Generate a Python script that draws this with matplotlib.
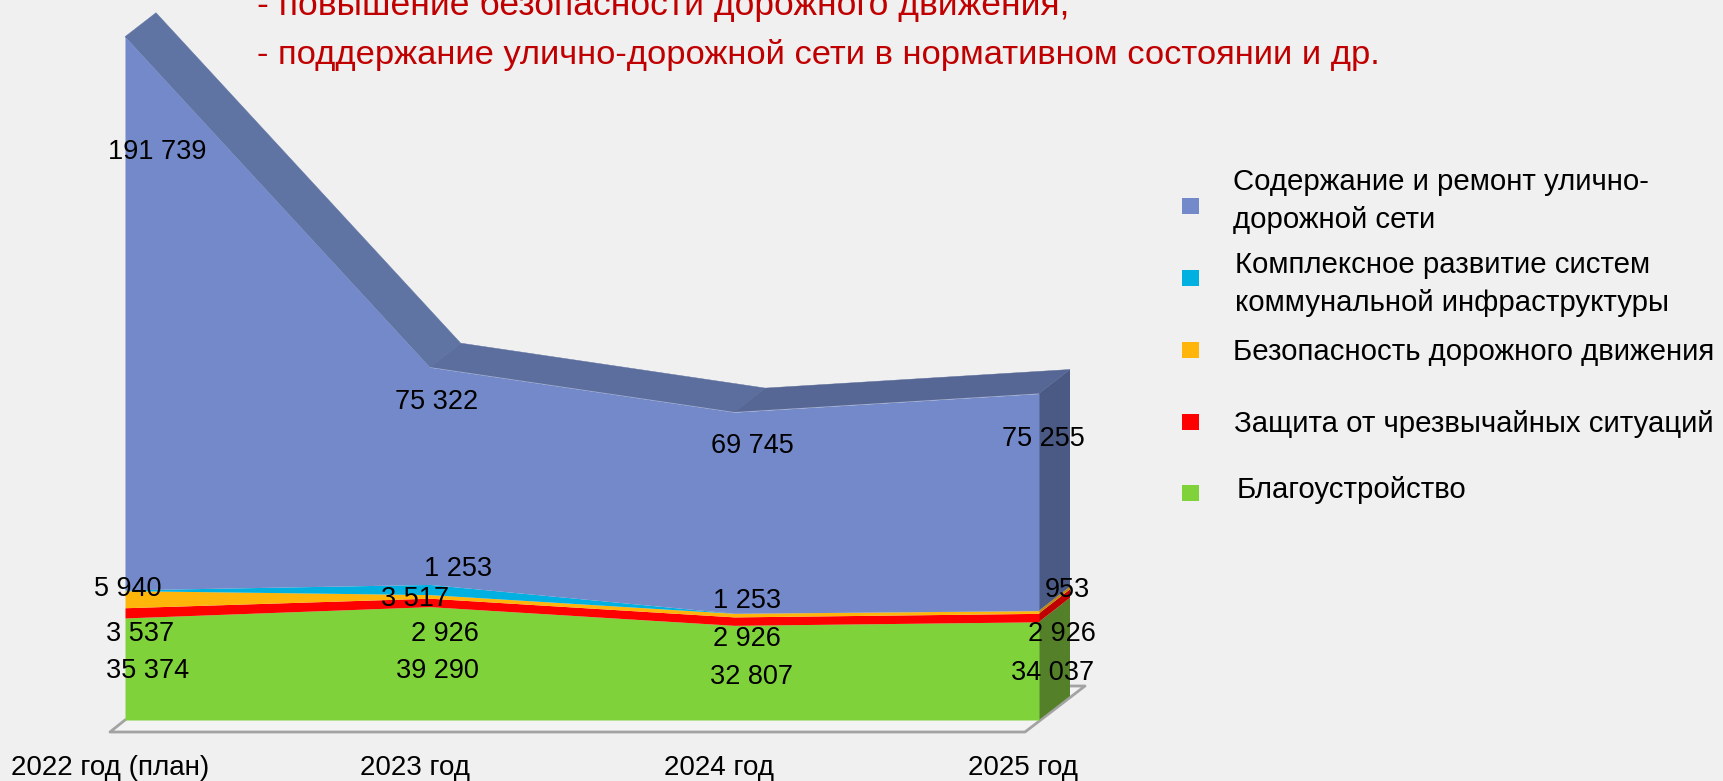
'''
Stacked area chart with a fake 3D depth, budget by direction 2022-2025
'''
import matplotlib
matplotlib.use('Agg')
import matplotlib.pyplot as plt
from matplotlib.patches import Polygon, Rectangle
import numpy as np

plt.rcParams['font.family'] = ['Liberation Sans', 'DejaVu Sans']

W, H = 1723, 781
BG = '#F0F0F0'

YEARS = ['2022 год (план)', '2023 год', '2024 год', '2025 год']

# bottom to top
GREEN = [35374, 39290, 32807, 34037]
RED = [3537, 2926, 2926, 2926]
ORANGE = [5940, 1253, 1253, 953]
CYAN = [250, 3517, 0, 0]
BLUE = [191739, 75322, 69745, 75255]

LAYERS = [GREEN, RED, ORANGE, CYAN, BLUE]
COLORS = ['#80D23A', '#FF0000', '#FFB50A', '#00B0E0', '#7389C9']
SIDE_COLORS = ['#55802A', '#C00000', '#C08A08', '#0080A0', '#4A5A85']
TOP_COLORS = ['#5F74A3', '#5B6E9E', '#566796']

LEGEND = ['Содержание и ремонт улично-\nдорожной сети',
          'Комплексное развитие систем\nкоммунальной инфраструктуры',
          'Безопасность дорожного движения',
          'Защита от чрезвычайных ситуаций',
          'Благоустройство']

TITLE = ['- повышение безопасности дорожного движения;',
         '- поддержание улично-дорожной сети в нормативном состоянии и др.']

# pixel places, same order as LAYERS
LABEL_POS = [[(148, 671), (437, 671), (752, 677), (1053, 673)],
             [(140, 634), (445, 634), (747, 639), (1062, 634)],
             [(128, 589), (458, 569), (747, 601), (1067, 590)],
             [None, (415, 599), None, None],
             [(157, 152), (437, 402), (752, 446), (1043, 439)]]
TICK_X = [110, 415, 719, 1023]
LEG_SQUARE_Y = [206, 278, 350, 422, 493]
LEG_TEXT = [(1233, 201), (1235, 284), (1233, 352), (1234, 424), (1237, 490)]

SCALE = 0.002885  # px per unit
LEFT, RIGHT, BASE = 125, 1039, 720
DEPTH_X, DEPTH_Y = 31, 24

fig = plt.figure(figsize=(W / 100, H / 100), dpi=100, facecolor=BG)

# floor, behind everything
bg = fig.add_axes([0, 0, 1, 1], zorder=0)
bg.set_xlim(0, W)
bg.set_ylim(H, 0)
bg.axis('off')
bg.add_patch(Polygon([(110, 732), (1025, 732), (1085, 686), (170, 686)],
                     facecolor='#F3F3F3', edgecolor='none'))
bg.plot([125, 110, 1025, 1085, 1060], [720, 732, 732, 686, 686],
        color='#A3A3A3', lw=2)

# the chart itself
ax = fig.add_axes([LEFT / W, (H - BASE) / H, (RIGHT - LEFT) / W, BASE / H],
                  zorder=1)
ax.set_xlim(0, 3)
ax.set_ylim(0, BASE / SCALE)
ax.axis('off')

x = np.arange(len(YEARS))
dx = DEPTH_X / ((RIGHT - LEFT) / 3)
dy = DEPTH_Y / SCALE

stack = np.cumsum(np.array(LAYERS), axis=0)
bottoms = np.vstack([np.zeros(len(x)), stack[:-1]])

# top face, one piece per segment
top = stack[-1]
for i, c in enumerate(TOP_COLORS):
    pts = [(x[i], top[i]), (x[i + 1], top[i + 1]),
           (x[i + 1] + dx, top[i + 1] + dy), (x[i] + dx, top[i] + dy)]
    ax.add_patch(Polygon(pts, facecolor=c, edgecolor=c, lw=0.3, clip_on=False))

# right wall
for low, high, c in zip(bottoms[:, -1], stack[:, -1], SIDE_COLORS):
    ax.add_patch(Polygon([(3, low), (3, high), (3 + dx, high + dy), (3 + dx, low + dy)],
                         facecolor=c, edgecolor='none', clip_on=False))

# front
for low, high, c in zip(bottoms, stack, COLORS):
    ax.fill_between(x, low, high, color=c, lw=0, clip_on=False)

# texts on top
fg = fig.add_axes([0, 0, 1, 1], zorder=2)
fg.set_xlim(0, W)
fg.set_ylim(H, 0)
fg.axis('off')

for layer, places in zip(LAYERS, LABEL_POS):
    for v, p in zip(layer, places):
        if p is not None:
            fg.text(p[0], p[1], f'{v:,}'.replace(',', ' '), fontsize=19.5,
                    color='black', ha='center', va='center')

for t, tx in zip(YEARS, TICK_X):
    fg.text(tx, 768, t, fontsize=20, color='black', ha='center', va='center')

for t, c, sy, pos in zip(LEGEND, COLORS[::-1], LEG_SQUARE_Y, LEG_TEXT):
    fg.add_patch(Rectangle((1182, sy - 8), 17, 16, facecolor=c, edgecolor='none'))
    fg.text(pos[0], pos[1], t, fontsize=21.2, color='black', ha='left', va='center',
            linespacing=1.45)

fg.text(257, 5, TITLE[0], fontsize=25.5, color='#C00000', ha='left', va='center')
fg.text(257, 55, TITLE[1], fontsize=24.8, color='#C00000', ha='left', va='center')

fig.savefig('out.png', dpi=100, facecolor=BG)
